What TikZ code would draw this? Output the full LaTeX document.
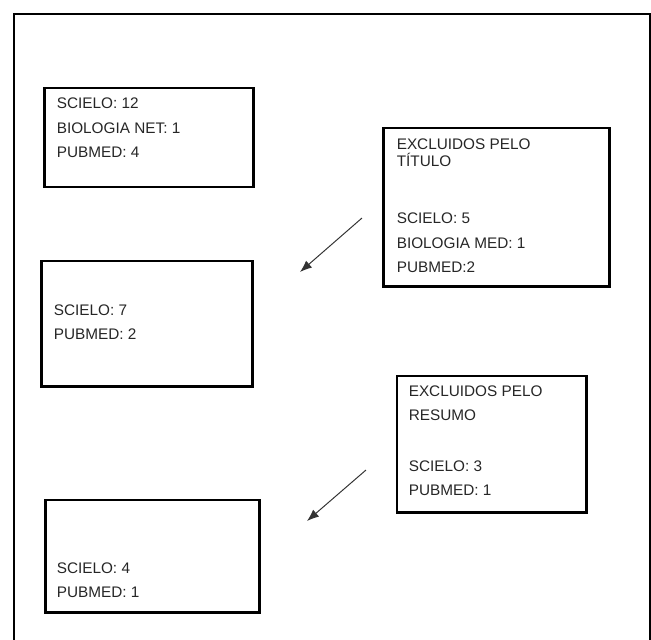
\documentclass[tikz,border=0pt]{standalone}
\usepackage{fontspec}
\setmainfont{Liberation Sans}
\usetikzlibrary{arrows.meta}

\begin{document}
\begin{tikzpicture}[
    x=0.025cm, y=-0.025cm,
    box/.style={draw, line width=2.1pt, inner sep=0pt},
    txt/.style={anchor=base west, align=left, inner sep=0pt, text=black!85, font=\fontsize{10.9}{17.4}\selectfont},
    arr/.style={-{Latex[length=8.5pt,width=6.5pt]}, line width=0.7pt, black!80},
]
\useasboundingbox (0,0) rectangle (651,639);
\clip (0,0) rectangle (651,639);

% moldura
\draw[line width=1.4pt] (14,660) -- (14,14) -- (650,14) -- (650,660);

% caixas
\node[box, minimum width=5.2cm,   minimum height=2.475cm] (total)  at (149,137.5) {};
\node[box, minimum width=5.625cm, minimum height=3.95cm]  (excTit) at (496.5,207) {};
\node[box, minimum width=5.25cm,  minimum height=3.125cm] (aposTit) at (147,323.5) {};
\node[box, minimum width=4.725cm, minimum height=3.4cm]   (excRes) at (491.5,444) {};
\node[box, minimum width=5.325cm, minimum height=2.8cm]   (final)  at (152.5,556) {};

% textos (ancorados na linha de base da ultima linha)
\node[txt] (totalTxt) at ([shift={(13,71)}]total.north west) {SCIELO: 12\\BIOLOGIA NET: 1\\PUBMED: 4};
\node[txt] (excTitTxt) at ([shift={(14,146)}]excTit.north west) {EXCLUIDOS PELO\\[-4.9pt]TÍTULO\\[23.1pt]SCIELO: 5\\BIOLOGIA MED: 1\\PUBMED:2};
\node[txt] (aposTitTxt) at ([shift={(13,80)}]aposTit.north west) {SCIELO: 7\\PUBMED: 2};
\node[txt] (excResTxt) at ([shift={(13,121)}]excRes.north west) {EXCLUIDOS PELO\\RESUMO\\[18.2pt]SCIELO: 3\\PUBMED: 1};
\node[txt] (finalTxt) at ([shift={(12,99)}]final.north west) {SCIELO: 4\\PUBMED: 1};

% setas
\coordinate (s1a) at (362,218);
\coordinate (s1b) at (300,272);
\coordinate (s2a) at (366,470);
\coordinate (s2b) at (307,521);
\draw[arr] (s1a) -- (s1b);
\draw[arr] (s2a) -- (s2b);

\end{tikzpicture}
\end{document}
